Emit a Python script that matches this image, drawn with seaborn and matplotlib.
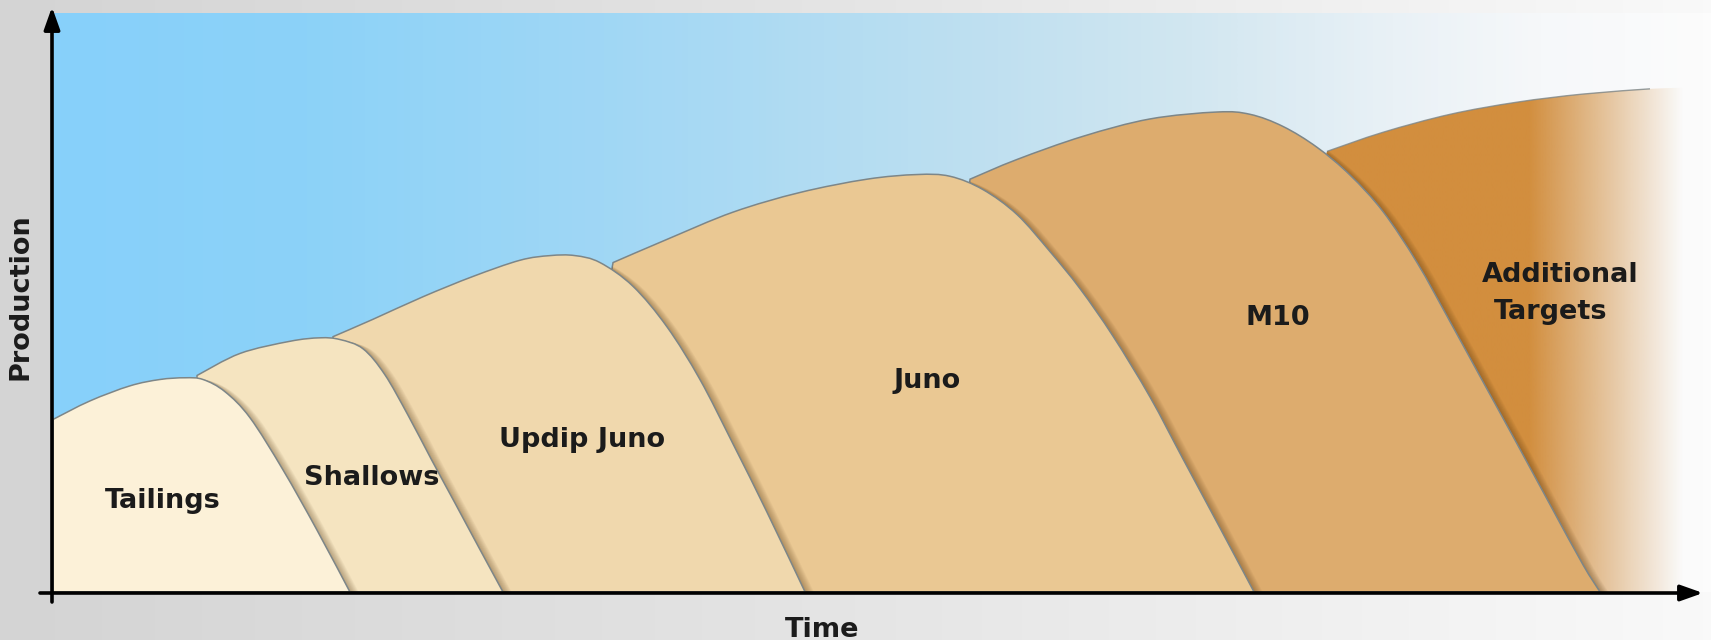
import numpy as np
import pandas as pd
import matplotlib
matplotlib.use("Agg")
import matplotlib.pyplot as plt
import matplotlib.transforms as mtransforms
from matplotlib.patches import PathPatch
from matplotlib.path import Path
from matplotlib.colors import LinearSegmentedColormap, to_rgb
import seaborn as sns

# ---------------- data ----------------
fields = ["Tailings", "Shallows", "Updip Juno", "Juno", "M10", "Additional Targets"]

tailings_time = [0.00, 2.23, 4.64, 6.45, 7.96, 9.05, 10.37, 11.88, 13.87, 15.92, 17.91]
tailings_prod = [29.8, 33.0, 35.6, 36.7, 37.0, 36.7, 34.6, 30.1, 21.1, 10.7, 0.0]

shallows_time = [8.69, 11.28, 14.29, 16.10, 17.31, 18.70, 20.00, 21.40, 22.80, 24.20, 25.70, 27.14]
shallows_prod = [37.4, 41.2, 43.3, 43.9, 43.6, 42.0, 37.6, 30.6, 23.0, 15.6, 7.6, 0.0]

updip_time = [16.89, 19.30, 22.32, 25.33, 28.17, 29.98, 31.48, 32.99, 34.98, 37.03, 39.02, 41.01, 43.06, 45.36]
updip_prod = [44.1, 47.1, 51.0, 54.5, 57.3, 58.1, 58.1, 56.9, 52.8, 45.8, 36.7, 25.6, 13.8, 0.0]

juno_time = [33.78, 37.03, 41.01, 45.05, 49.10, 52.11, 54.10, 56.09, 58.14, 60.13, 61.94, 63.93, 66.16, 68.15, 70.21, 72.44]
juno_prod = [56.9, 60.9, 65.6, 69.0, 71.3, 72.1, 71.8, 69.5, 65.2, 58.8, 52.4, 44.2, 33.7, 23.0, 12.0, 0.0]

m10_time = [55.31, 58.14, 62.12, 66.16, 70.21, 72.20, 74.19, 76.24, 78.23, 80.22, 82.27, 84.26, 86.25, 88.30, 90.29, 92.28, 93.31]
m10_prod = [71.3, 74.7, 78.7, 81.7, 82.9, 82.5, 80.4, 76.8, 72.0, 65.7, 56.9, 46.7, 36.3, 25.6, 15.1, 4.7, 0.0]

additional_time = [76.84, 80.22, 84.26, 88.30, 92.28, 96.32, 100.0, 100.0]
additional_prod = [76.1, 79.4, 82.5, 84.6, 86.0, 86.9, 87.2, 0.0]

field_times = [tailings_time, shallows_time, updip_time, juno_time, m10_time, additional_time]
field_prods = [tailings_prod, shallows_prod, updip_prod, juno_prod, m10_prod, additional_prod]

label_text = ["Tailings", "Shallows", "Updip Juno", "Juno", "M10", "Additional", "Targets"]
label_time = [6.6, 19.2, 31.9, 52.7, 73.9, 90.9, 90.35]
label_prod = [14.5, 18.5, 25.1, 35.3, 46.2, 53.5, 47.2]

field_colors = ["#FCF1D8", "#F5E4C0", "#F0D8AD", "#EAC893", "#DDAC6E", "#D28E3E"]

# ---------------- helpers ----------------
def curve_codes(pts):
    """Smooth (Catmull-Rom as cubic Bezier) path through given points."""
    verts = [tuple(pts[0])]
    codes = [Path.MOVETO]
    ext = np.vstack([pts[0], pts, pts[-1]])
    for j in range(len(pts) - 1):
        p0, p1, p2, p3 = ext[j], ext[j + 1], ext[j + 2], ext[j + 3]
        c1 = p1 + (p2 - p0) / 6.0
        c2 = p2 - (p3 - p1) / 6.0
        verts += [tuple(c1), tuple(c2), tuple(p2)]
        codes += [Path.CURVE4] * 3
    return verts, codes


def split_profile(t, p):
    pts = np.column_stack([t, p]).astype(float)
    tail = None
    if len(pts) > 1 and pts[-1, 1] == 0 and pts[-1, 0] == pts[-2, 0]:
        tail = pts[-1]
        pts = pts[:-1]
    return pts, tail


def field_path(foot, t, p):
    pts, tail = split_profile(t, p)
    cv, cc = curve_codes(pts)
    verts = [(foot, 0.0)] + cv
    codes = [Path.MOVETO, Path.LINETO] + cc[1:]
    end = tail if tail is not None else (pts[-1, 0], 0.0)
    if verts[-1][1] != 0:
        verts.append(tuple(end))
        codes.append(Path.LINETO)
    verts.append((foot, 0.0))
    codes.append(Path.CLOSEPOLY)
    return Path(verts, codes)


def top_path(t, p, tmax=None):
    pts, _ = split_profile(t, p)
    if tmax is not None:
        pts = pts[pts[:, 0] <= tmax]
    v, c = curve_codes(pts)
    return Path(v, c)

# ---------------- figure ----------------
sns.set_theme(style="white")
plt.rcParams["font.family"] = ["DejaVu Sans"]
palette = sns.color_palette(field_colors)

W, H = 1711, 640
fig = plt.figure(figsize=(W / 100, H / 100), dpi=100)

# page background: light grey fading to white
bg = fig.add_axes([0, 0, 1, 1], zorder=-10)
bg_cmap = LinearSegmentedColormap.from_list(
    "bg", [(0.0, (212/255, 212/255, 212/255)), (0.5, (229/255, 229/255, 229/255)),
           (1.0, (249/255, 249/255, 249/255))])
bg.imshow(np.linspace(0, 1, 512)[None, :], cmap=bg_cmap, aspect="auto",
          extent=(0, 1, 0, 1), interpolation="bilinear")
bg.set_axis_off()

ax = fig.add_axes([53 / W, 48 / H, (W - 53) / W, (627 - 48) / H])
ax.patch.set_alpha(0)
ax.set_xlim(0, 100)
ax.set_ylim(0, 100)
ax.set_axis_off()

sky_cmap = LinearSegmentedColormap.from_list(
    "sky", [(0.0, (135/255, 208/255, 251/255)), (0.15, (140/255, 210/255, 248/255)),
            (0.33, (160/255, 215/255, 245/255)), (0.57, (192/255, 224/255, 240/255)),
            (0.69, (210/255, 231/255, 241/255)), (0.81, (233/255, 241/255, 246/255)),
            (0.90, (246/255, 248/255, 250/255)), (1.0, (252/255, 252/255, 252/255))])
ax.imshow(np.linspace(0, 1, 512)[None, :], cmap=sky_cmap, aspect="auto",
          extent=(0, 100, 0, 100), interpolation="bilinear", zorder=0)

n = len(fields)
paths = []
for i in range(n):
    if i == 0:
        foot = 0.0
    else:
        foot = field_times[i - 1][int(np.argmax(field_prods[i - 1]))]
    paths.append(field_path(foot, field_times[i], field_prods[i]))

edge_col = "#7d8688"
patches = []
for i in range(n):
    z = 20 - 2 * i
    if i < n - 1:
        patch = PathPatch(paths[i], facecolor=palette[i], edgecolor=edge_col,
                          lw=1.1, zorder=z)
        ax.add_patch(patch)
    else:
        patch = PathPatch(paths[i], facecolor="none", edgecolor="none", zorder=z)
        ax.add_patch(patch)
        xs = np.linspace(70, 100, 600)
        alpha = np.clip((98.3 - xs) / (98.3 - 89.0), 0, 1)
        rgba = np.zeros((1, xs.size, 4))
        rgba[..., :3] = to_rgb(palette[i])
        rgba[..., 3] = alpha
        im = ax.imshow(rgba, extent=(70, 100, 0, 95), aspect="auto",
                       interpolation="bilinear", zorder=z)
        im.set_clip_path(patch)
        ax.add_patch(PathPatch(top_path(field_times[i], field_prods[i], tmax=96.5),
                               facecolor="none", edgecolor=edge_col, lw=1.0,
                               alpha=0.8, zorder=z + 0.5))
    patches.append(patch)

# soft cast shadows of each front field on the one behind it
for i in range(n - 1):
    z = 20 - 2 * (i + 1) + 0.7
    for k in range(1, 10):
        tr = mtransforms.offset_copy(ax.transData, fig=fig, x=1.1 * k, y=-0.25 * k,
                                     units="dots")
        sh = PathPatch(paths[i], facecolor="#4a2c08", edgecolor="none",
                       alpha=0.045, transform=tr, zorder=z)
        ax.add_patch(sh)
        sh.set_clip_path(patches[i + 1])

# labels
for txt, tx, py in zip(label_text, label_time, label_prod):
    ax.text(tx, py, txt, ha="center", va="baseline", fontsize=19.5,
            fontweight="bold", color="#1b1b1b", zorder=40)

# axes with arrows (overlay)
ov = fig.add_axes([0, 0, 1, 1], zorder=30)
ov.set_axis_off()
ov.patch.set_alpha(0)
arrow_style = dict(arrowstyle="-|>,head_length=0.9,head_width=0.32", lw=2.6,
                   color="black", mutation_scale=15, shrinkA=0, shrinkB=0)
ov.annotate("", xy=(52, H - 7), xytext=(52, H - 602), xycoords="figure pixels",
            textcoords="figure pixels", arrowprops=arrow_style)
ov.annotate("", xy=(1703, H - 593), xytext=(40, H - 593), xycoords="figure pixels",
            textcoords="figure pixels", arrowprops=arrow_style)

fig.text(822 / W, 3 / H, "Time", ha="center", va="baseline", fontsize=19.5,
         fontweight="bold", color="#1b1b1b")
fig.text(21 / W, (H - 297) / H, "Production", ha="center", va="center",
         rotation=90, fontsize=19.5, fontweight="bold", color="#1b1b1b")

fig.savefig("out.png", dpi=100)
